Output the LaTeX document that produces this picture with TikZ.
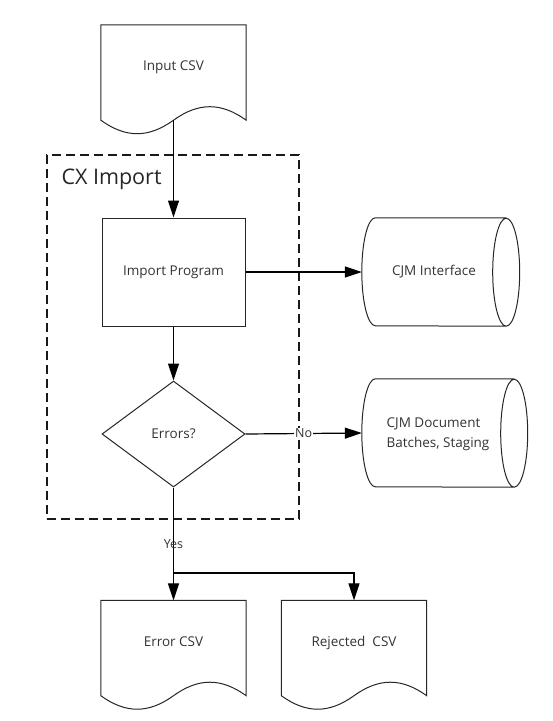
\documentclass[tikz,border=0pt]{standalone}
\usepackage{fontspec}
\setmainfont{Open Sans}
\usetikzlibrary{shapes.geometric, arrows.meta}
\newcommand{\drawdoc}[4]{
	\node[doc] (#1) at (#2,#3) {#4};
	\draw[outline] (#1.north west) -- (#1.south west)
		.. controls +(25,18) and +(-25,18) .. (#1.south)
		.. controls +(25,-18) and +(-25,-18) .. (#1.south east)
		-- (#1.north east) -- cycle;
}
\newcommand{\drawstore}[5]{
	\node[store, minimum width=#4] (#1) at (#2,#3) {#5};
	\draw[outline] (#1.north east) -- ([xshift=13.5pt]#1.north west)
		arc[start angle=90, end angle=270, x radius=13.5pt, y radius=54pt]
		-- (#1.south east)
		arc[start angle=-90, end angle=270, x radius=13.5pt, y radius=54pt];
}

\begin{document}
\begin{tikzpicture}[x=1pt, y=-1pt,
		outline/.style={draw=black!85, line width=1pt},
		txt/.style={text=black!80, font=\fontsize{13.5}{20}\selectfont},
		doc/.style={txt, minimum width=145pt, minimum height=95pt, inner sep=0pt, text depth=13pt},
		process/.style={txt, outline, minimum width=143pt, minimum height=108pt, inner sep=0pt},
		decision/.style={txt, outline, diamond, minimum width=143pt, minimum height=106pt, inner sep=0pt},
		store/.style={txt, minimum height=108pt, inner sep=0pt},
		flow/.style={line width=1.2pt, -{Triangle[length=17pt, width=11pt]}},
		lbl/.style={text=black!80, font=\fontsize{12.5}{15}\selectfont, inner sep=1pt}]
		\useasboundingbox (0,0) rectangle (553,721);
		% import region
		\node[draw=black!90, line width=1.3pt, dash pattern=on 9pt off 5pt,
			minimum width=252pt, minimum height=364pt, inner sep=0pt] (region) at (173,337) {};
		\node[text=black!85, font=\fontsize{21.5}{26}\selectfont, anchor=base west] (title) at (58,184) {CX Import};
		% shapes
		\drawdoc{input}{173.5}{72.5}{Input CSV}
		\node[process] (import) at (173.5,272) {Import Program};
		\node[decision] (errors) at (173.5,434) {Errors?};
		\drawstore{iface}{434}{272}{144pt}{CJM Interface}
		\drawstore{batches}{438}{433}{152pt}{\begin{tabular}{@{}l@{}}CJM Document\\Batches, Staging\end{tabular}}
		\drawdoc{errcsv}{173.5}{648}{Error CSV}
		\drawdoc{rejcsv}{354}{648}{Rejected\ \ CSV}
		% flows
		\draw[flow] (input.south) -- (import.north);
		\draw[flow] (import.east) -- (iface.west);
		\draw[flow] (import.south) -- (errors.north);
		\draw[flow] (errors.east) -- node[lbl, fill=white] (no) {No} (batches.west);
		\draw[flow] (errors.south) -- node[lbl, pos=0.5] (yes) {Yes} (errcsv.north);
		\coordinate (split) at (173.5,573);
		\draw[flow] (split) -| (rejcsv.north);
	\end{tikzpicture}
\end{document}
